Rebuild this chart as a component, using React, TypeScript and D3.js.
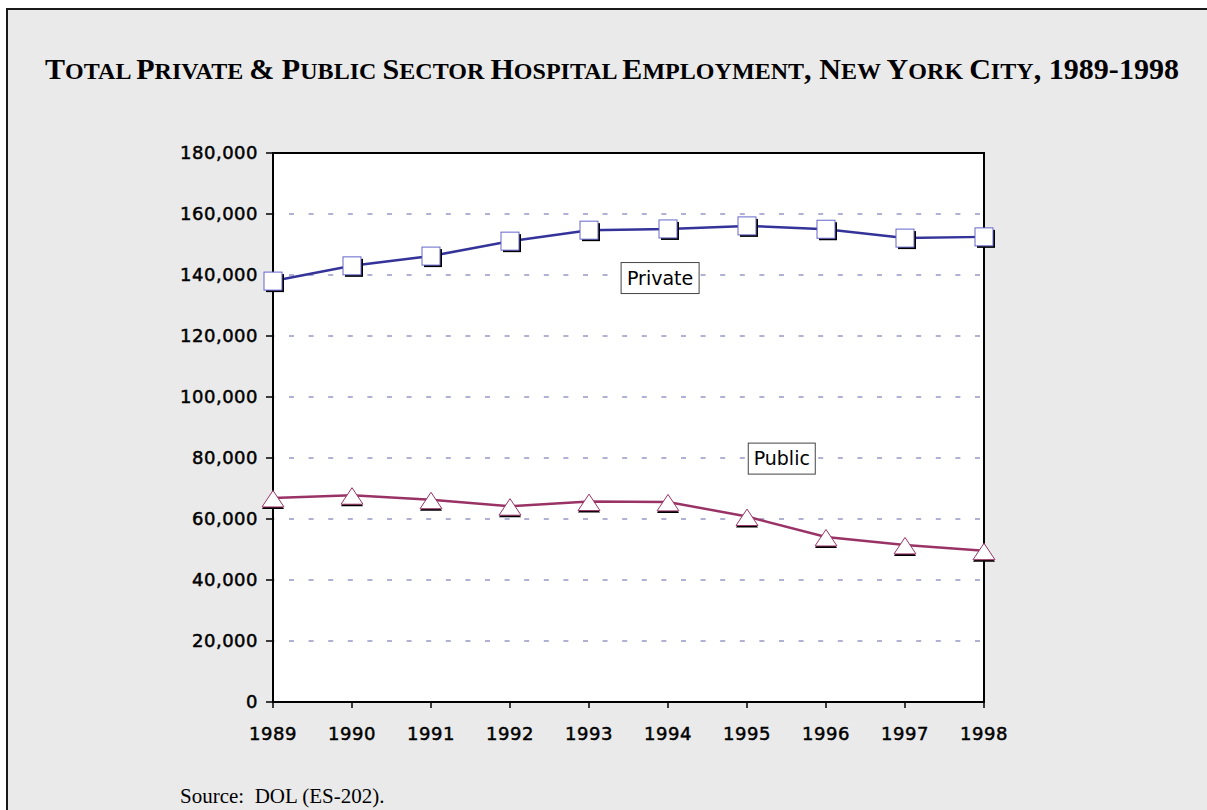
import React from "react";
import * as d3 from "d3";

const years = [1989, 1990, 1991, 1992, 1993, 1994, 1995, 1996, 1997, 1998];
const privateValues = [138000, 143000, 146200, 151100, 154700, 155100, 156100, 155000, 152100, 152500];
const publicValues = [66900, 67800, 66300, 64200, 65700, 65600, 60800, 54100, 51500, 49600];
const yTicks = [0, 20000, 40000, 60000, 80000, 100000, 120000, 140000, 160000, 180000];
const seriesLabels = [
  { name: "Private", year: 1993.9, value: 139000 },
  { name: "Public", year: 1995.44, value: 79800 },
];
const titleParts: [string, boolean][] = [
  ["T", true], ["OTAL ", false], ["P", true], ["RIVATE ", false], ["& ", true], ["P", true], ["UBLIC ", false],
  ["S", true], ["ECTOR ", false], ["H", true], ["OSPITAL ", false], ["E", true], ["MPLOYMENT", false], [", ", true],
  ["N", true], ["EW ", false], ["Y", true], ["ORK ", false], ["C", true], ["ITY", false], [", 1989-1998", true],
];

export default function App() {
  const x = d3.scaleLinear().domain([1989, 1998]).range([273, 984]);
  const y = d3.scaleLinear().domain([0, 180000]).range([702, 153]);
  const fmt = d3.format(",");
  const line = d3.line<number>().x((_, i) => x(years[i])).y((d) => y(d));
  const tickFont = "'DejaVu Sans', Verdana, sans-serif";

  return (
    <svg width={1207} height={810} style={{ position: "absolute", left: 0, top: 0 }}>
      <rect x={7} y={9} width={1220} height={820} fill="#EAEAEA" stroke="#1a1a1a" strokeWidth={2} />
      <text x={45} y={79} fontFamily="'Liberation Serif', 'Times New Roman', serif" fontWeight="bold" textLength={1134} lengthAdjust="spacing">
        {titleParts.map(([t, big], i) => (
          <tspan key={i} fontSize={big ? 30 : 24}>{t}</tspan>
        ))}
      </text>

      <rect x={273} y={153} width={711} height={549} fill="#fff" />
      {yTicks.filter((t) => t > 0 && t < 180000).map((t) => (
        <line key={t} x1={274} x2={983} y1={y(t)} y2={y(t)} stroke="#6262A8" strokeWidth={1} strokeDasharray="5 14.6" strokeDashoffset={-15} />
      ))}
      <rect x={273} y={153} width={711} height={549} fill="none" stroke="#000" strokeWidth={2} />

      {yTicks.map((t) => (
        <g key={t}>
          <line x1={266} x2={273} y1={y(t)} y2={y(t)} stroke="#000" strokeWidth={1.5} />
          <text x={258} y={y(t)} dy="0.36em" textAnchor="end" fontFamily={tickFont} fontSize={18} letterSpacing={0.5} fill="#000" stroke="#000" strokeWidth={0.5}>
            {fmt(t)}
          </text>
        </g>
      ))}
      {years.map((yr) => (
        <g key={yr}>
          <line x1={x(yr)} x2={x(yr)} y1={702} y2={708} stroke="#000" strokeWidth={1.5} />
          <text x={x(yr)} y={740} textAnchor="middle" fontFamily={tickFont} fontSize={18} letterSpacing={0.5} fill="#000" stroke="#000" strokeWidth={0.5}>
            {yr}
          </text>
        </g>
      ))}

      <path d={line(privateValues) || ""} fill="none" stroke="#333399" strokeWidth={2.5} />
      <path d={line(publicValues) || ""} fill="none" stroke="#993366" strokeWidth={2.5} />

      {privateValues.map((v, i) => (
        <g key={"p" + i} transform={`translate(${x(years[i])},${y(v)})`}>
          <rect x={-7} y={-7} width={18} height={18} fill="#000" />
          <rect x={-9} y={-9} width={18} height={18} fill="#fff" stroke="#6666CC" strokeWidth={1} />
        </g>
      ))}
      {publicValues.map((v, i) => (
        <g key={"q" + i} transform={`translate(${x(years[i])},${y(v)})`}>
          <path d="M0,-5.5 L11,11 L-11,11 Z" fill="#000" />
          <path d="M0,-7.5 L11,9 L-11,9 Z" fill="#fff" stroke="#993366" strokeWidth={1} />
        </g>
      ))}

      {seriesLabels.map((l) => {
        const cx = x(l.year);
        const cy = y(l.value);
        const w = l.name === "Private" ? 78 : 67;
        return (
          <g key={l.name}>
            <rect x={cx - w / 2} y={cy - 15.5} width={w} height={31} fill="#fff" stroke="#444" strokeWidth={1} />
            <text x={cx} y={cy} dy="0.36em" textAnchor="middle" fontFamily={tickFont} fontSize={19} fill="#000">
              {l.name}
            </text>
          </g>
        );
      })}

      <text x={180} y={803} fontFamily="'Liberation Serif', 'Times New Roman', serif" fontSize={21} fill="#000" style={{ whiteSpace: "pre" }}>
        {"Source:  DOL (ES-202)."}
      </text>
    </svg>
  );
}
